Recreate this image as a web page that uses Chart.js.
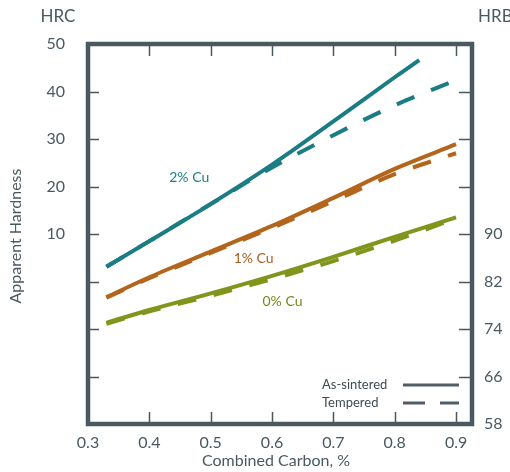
<!DOCTYPE html>
<html>
<head>
<meta charset="utf-8">
<script src="https://cdn.jsdelivr.net/npm/chart.js@4/dist/chart.umd.min.js"></script>
<style>
  html, body { margin: 0; padding: 0; background: #fff; }
</style>
</head>
<body>
<canvas id="chart" width="510" height="472"></canvas>
<script>
// combined carbon (%) for each reading
const carbon = [0.33, 0.4, 0.5, 0.6, 0.7, 0.8, 0.9];
const carbonShort = [0.33, 0.4, 0.5, 0.6, 0.7, 0.8, 0.84];

// apparent hardness, in HRC units (values below 10 map onto the HRB scale)
const cu2Sintered = [3.1, 8.5, 16.3, 24.6, 33.7, 43.0, 46.6];
const cu2Tempered = [3.1, 8.5, 16.3, 24.0, 30.8, 37.1, 42.4];
const cu1Sintered = [-3.3, 0.9, 6.3, 11.7, 17.6, 23.7, 28.9];
const cu1Tempered = [-3.4, 0.7, 6.0, 11.3, 16.9, 22.6, 27.0];
const cu0Sintered = [-8.7, -6.0, -2.5, 1.2, 5.2, 9.4, 13.5];
const cu0Tempered = [-8.9, -6.3, -3.0, 0.5, 4.3, 8.6, 13.3];

const xTicks = [0.3, 0.4, 0.5, 0.6, 0.7, 0.8, 0.9];
const hrcTicks = [10, 20, 30, 40, 50];
const hrbTicks = [58, 66, 74, 82, 90];
const hrcMarks = [-20, -10, 0, 10, 20, 30, 40];

const curveNames = ['2% Cu', '1% Cu', '0% Cu'];
const legendNames = ['As-sintered', 'Tempered'];

const teal = '#1b7d83';
const orange = '#b4651c';
const olive = '#7f951b';
const ink = '#4a5960';
const FONT = 'Lato';

function pts(xs, ys) {
  return xs.map((x, i) => ({ x: x, y: ys[i] }));
}

function series(xs, ys, color, dashed) {
  return {
    data: pts(xs, ys),
    borderColor: color,
    borderWidth: 4,
    borderDash: dashed ? [19, 18] : [],
    borderCapStyle: 'butt',
    pointRadius: 0,
    cubicInterpolationMode: 'monotone',
    yAxisID: 'y'
  };
}

// frame, inward tick marks, curve names and the line-style key
const decor = {
  id: 'decor',
  beforeDatasetsDraw(chart) {
    const c = chart.ctx, a = chart.chartArea;
    const sx = chart.scales.x, sy = chart.scales.y;
    c.save();
    c.strokeStyle = ink;
    c.lineWidth = 1.5;
    c.beginPath();
    xTicks.slice(1).forEach(v => {
      const px = Math.round(sx.getPixelForValue(v)) + 0.5;
      c.moveTo(px, a.top); c.lineTo(px, a.top + 12);
      c.moveTo(px, a.bottom); c.lineTo(px, a.bottom - 12);
    });
    hrcMarks.forEach(v => {
      const py = Math.round(sy.getPixelForValue(v)) + 0.5;
      c.moveTo(a.left, py); c.lineTo(a.left + 11, py);
      c.moveTo(a.right, py); c.lineTo(a.right - 13, py);
    });
    c.stroke();
    c.restore();
  },
  afterDraw(chart) {
    const c = chart.ctx, a = chart.chartArea;
    const sx = chart.scales.x, sy = chart.scales.y;
    c.save();
    c.strokeStyle = ink;
    c.lineWidth = 4.5;
    c.strokeRect(a.left, a.top, a.right - a.left, a.bottom - a.top);

    c.fillStyle = ink;
    c.textBaseline = 'middle';
    c.font = '17px ' + FONT;
    c.textAlign = 'center';
    c.fillText('HRC', 58, 17);
    c.textAlign = 'left';
    c.fillText('HRB', 478, 17);

    c.font = '16px ' + FONT;
    c.textAlign = 'center';
    c.fillText('Combined Carbon, %', 276, 461);
    c.save();
    c.translate(16, 236);
    c.rotate(-Math.PI / 2);
    c.fillText('Apparent Hardness', 0, 0);
    c.restore();

    c.font = '14px ' + FONT;
    c.fillStyle = teal;
    c.fillText(curveNames[0], sx.getPixelForValue(0.465), sy.getPixelForValue(21.8));
    c.fillStyle = '#a95c1c';
    c.fillText(curveNames[1], sx.getPixelForValue(0.57), sy.getPixelForValue(4.9));
    c.fillStyle = '#728818';
    c.fillText(curveNames[2], sx.getPixelForValue(0.617), sy.getPixelForValue(-4.3));

    // line-style key
    c.font = '13px ' + FONT;
    c.fillStyle = '#3e4b52';
    c.textAlign = 'left';
    c.fillText(legendNames[0], 322, 385);
    c.fillText(legendNames[1], 322, 403);
    c.strokeStyle = '#505f67';
    c.lineWidth = 3;
    c.beginPath();
    c.moveTo(403, 385); c.lineTo(459, 385);
    c.stroke();
    c.setLineDash([22, 15]);
    c.beginPath();
    c.moveTo(403, 403); c.lineTo(459, 403);
    c.stroke();
    c.restore();
  }
};

const tickFont = { family: FONT, size: 16 };

new Chart(document.getElementById('chart').getContext('2d'), {
  type: 'line',
  data: {
    datasets: [
      series(carbonShort, cu2Sintered, teal, false),
      series(carbon, cu2Tempered, teal, true),
      series(carbon, cu1Sintered, orange, false),
      series(carbon, cu1Tempered, orange, true),
      series(carbon, cu0Sintered, olive, false),
      series(carbon, cu0Tempered, olive, true)
    ]
  },
  options: {
    animation: false,
    responsive: false,
    layout: { padding: { top: 44, left: 0, right: 0, bottom: 0 } },
    plugins: { legend: { display: false }, tooltip: { enabled: false } },
    scales: {
      x: {
        type: 'linear',
        min: 0.3,
        max: 0.926,
        afterBuildTicks: s => { s.ticks = xTicks.map(v => ({ value: v })); },
        afterFit: s => { s.height = 48; },
        grid: { display: false, drawTicks: false },
        border: { display: false },
        ticks: {
          font: tickFont, color: ink, padding: 9,
          maxRotation: 0, autoSkip: false,
          callback: v => v.toFixed(1)
        }
      },
      y: {
        position: 'left',
        min: -30,
        max: 50,
        afterBuildTicks: s => { s.ticks = hrcTicks.map(v => ({ value: v })); },
        afterFit: s => { s.width = 88; },
        grid: { display: false, drawTicks: false },
        border: { display: false },
        ticks: { font: tickFont, color: ink, padding: 23 }
      },
      yR: {
        position: 'right',
        min: 58,
        max: 122,
        afterBuildTicks: s => { s.ticks = hrbTicks.map(v => ({ value: v })); },
        afterFit: s => { s.width = 38; },
        grid: { display: false, drawTicks: false },
        border: { display: false },
        ticks: { font: tickFont, color: ink, padding: 12 }
      }
    }
  },
  plugins: [decor]
});
</script>
</body>
</html>
